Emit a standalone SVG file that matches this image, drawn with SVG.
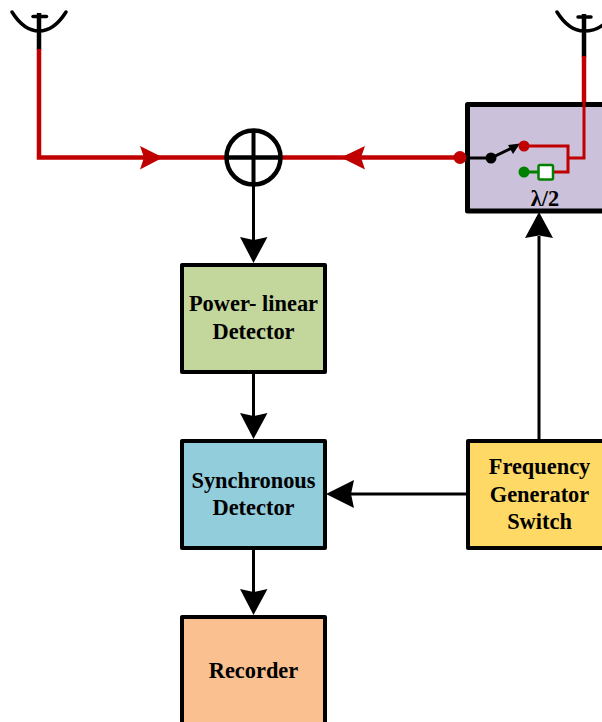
<svg xmlns="http://www.w3.org/2000/svg" width="602" height="722" viewBox="0 0 602 722">
<style>
.box{stroke:#000;stroke-width:4;stroke-linejoin:round}
.t{font-family:"Liberation Serif","Times New Roman",serif;font-weight:bold;font-size:22.4px;text-anchor:middle;fill:#000}
.k{fill:none;stroke:#000;stroke-width:3}
.d{fill:none;stroke:#000;stroke-width:3.5;stroke-linecap:round}
.kt{fill:none;stroke:#000;stroke-width:4.5}
.r{fill:none;stroke:#c00000;stroke-width:4.5}
.r2{fill:none;stroke:#c00000;stroke-width:3}
.g{fill:none;stroke:#008000;stroke-width:3}
.ah{fill:#000;stroke:none}
.rh{fill:#c00000;stroke:none}
</style>
<g id="connectors">
<path class="kt" d="M39 13V50"/>
<path class="r" d="M39 49V157.500H227"/>
<path class="r" d="M281 157.500H460"/>
<path class="kt" d="M584 14V57"/>
<path class="r" d="M584 56V105"/>
<polygon class="rh" points="163,157.500 140,146 144,157.500 140,169.500"/>
<polygon class="rh" points="341,157.500 365,146 361,157.500 365,169.500"/>
<path class="k" d="M253.500 185V242"/>
<polygon class="ah" points="253.500,263 240,237 253.500,240 267.500,237"/>
<path class="k" d="M253.500 372V418"/>
<polygon class="ah" points="253.500,439 240,413 253.500,416 267.500,413"/>
<path class="k" d="M253.500 548V594"/>
<polygon class="ah" points="253.500,615 240,589 253.500,592 267.500,589"/>
<path class="k" d="M539 440V236"/>
<polygon class="ah" points="539,212 525,238 539,235.500 553,238"/>
<path class="k" d="M467 494H348"/>
<polygon class="ah" points="326,494 354,480 351,494 354,508"/>
</g>
<g id="antenna-left">
<path class="d" d="M12 12Q24 31 39 31Q54 31 66 12"/>
<path class="d" d="M33 16.500H46.500"/>
</g>
<g id="antenna-right">
<path class="d" d="M557 12Q569 31 584 31Q596 31 604 24"/>
<path class="d" d="M578 17H591"/>
</g>
<g id="summer">
<circle cx="253.500" cy="157.500" r="27" fill="#fff" stroke="#000" stroke-width="4.500"/>
<path class="kt" d="M227 157.500H281"/>
<path class="k" d="M253.500 130V185" style="stroke-width:4"/>
</g>
<g id="phase-switch">
<rect class="box" x="467.500" y="104.500" width="140" height="106.500" fill="#ccc1da" style="stroke-width:5"/>
<path class="r2" d="M584 102V158H568M523 146H568V172H552"/>
<path class="k" d="M460 158H491L516 146"/>
<polygon class="ah" points="520,143.500 508,145 513,154"/>
<circle cx="460" cy="157.500" r="6.500" fill="#c00000"/>
<circle cx="491" cy="158" r="5.500" fill="#000"/>
<circle cx="524" cy="146" r="5.500" fill="#c00000"/>
<circle cx="524" cy="172" r="5.500" fill="#008000"/>
<path class="g" d="M524 172H539"/>
<rect x="538.500" y="165" width="14.500" height="14.500" rx="1.500" fill="#fff" stroke="#008000" stroke-width="2.500"/>
<text class="t" x="545" y="206">λ/2</text>
</g>
<g id="power-linear-detector">
<rect class="box" x="182" y="265" width="143" height="107" fill="#c3d69b"/>
<text class="t" x="253.500" y="311">Power- linear</text>
<text class="t" x="253.500" y="339">Detector</text>
</g>
<g id="synchronous-detector">
<rect class="box" x="182" y="441" width="143" height="107" fill="#92cddc"/>
<text class="t" x="253.500" y="488">Synchronous</text>
<text class="t" x="253.500" y="515">Detector</text>
</g>
<g id="recorder">
<rect class="box" x="182" y="617" width="143" height="107" fill="#fac090"/>
<text class="t" x="253.500" y="678">Recorder</text>
</g>
<g id="frequency-generator-switch">
<rect class="box" x="468" y="441" width="140" height="107" fill="#ffd966"/>
<text class="t" x="539.500" y="474">Frequency</text>
<text class="t" x="539.500" y="502">Generator</text>
<text class="t" x="539.500" y="529">Switch</text>
</g>
</svg>
